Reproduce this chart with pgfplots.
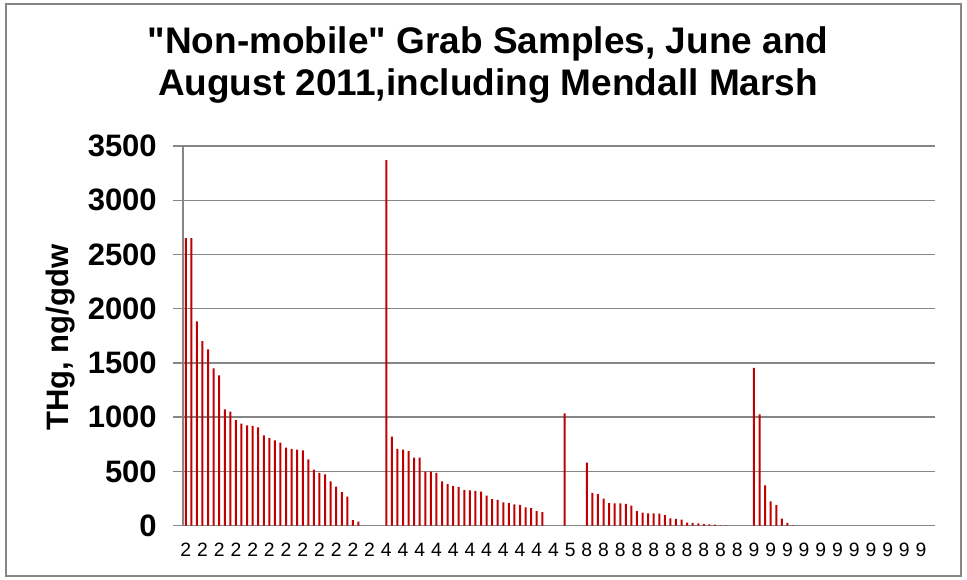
\documentclass[border=0pt]{standalone}
\usepackage{fontspec}
\setmainfont{Liberation Sans}
\newfontfamily\qfont[Ligatures=ResetAll]{Liberation Sans}
\usepackage{pgfplots}
\pgfplotsset{compat=1.18}
\definecolor{barred}{RGB}{192,0,0}
\definecolor{gridgray}{RGB}{134,134,134}
\begin{document}
\begin{tikzpicture}
\path[use as bounding box] (0,0) rectangle (725.25pt,435pt);
\draw[gridgray, line width=1.1pt] (4.5pt,3pt) rectangle (720.75pt,432pt);
\begin{axis}[
  at={(137.25pt,40.725pt)}, anchor=south west,
  scale only axis, width=564pt, height=284.775pt,
  xmin=0.5, xmax=135.5, ymin=0, ymax=3500,
  axis x line*=bottom, axis y line*=left,
  axis line style={-, gridgray, line width=1.1pt},
  ybar, bar width=1.5pt,
  ytick={0,500,...,3500},
  yticklabels={0,500,1000,1500,2000,2500,3000,3500},
  ymajorgrids, major grid style={gridgray, line width=1.1pt},
  tick align=outside, major tick length=7.5pt, minor tick length=3.75pt,
  ytick style={gridgray, line width=1.1pt},
  xtick={1,4,...,133},
  xticklabels={2,2,2,2,2,2,2,2,2,2,2,2,4,4,4,4,4,4,4,4,4,4,4,5,8,8,8,8,8,8,8,8,8,8,9,9,9,9,9,9,9,9,9,9,9},
  xtick style={draw=none},
  minor xtick={0.5,1.5,...,135.5},
  minor x tick style={gridgray, line width=0.9pt},
  yticklabel style={font=\fontsize{23.25}{28}\selectfont\bfseries, anchor=east, inner sep=0pt, xshift=-12pt},
  xticklabel style={font=\fontsize{14.5}{17}\selectfont, anchor=north, inner sep=0pt, yshift=-5.5pt},
  title={{\qfont\bfseries"}Non-mobile{\qfont\bfseries"} Grab Samples, June and\\August 2011,including Mendall Marsh},
  title style={at={(axis description cs:0.4056,1.0896)}, anchor=south, align=center, inner sep=0pt, font=\fontsize{27.75}{31.5}\selectfont\bfseries},
  ylabel={THg, ng/gdw},
  ylabel style={at={(axis description cs:-0.1431,0.495)}, anchor=south, inner sep=0pt, rotate=0, font=\fontsize{23.25}{28}\selectfont\bfseries},
]
\addplot[fill=barred, draw=none] coordinates {
(1,2650) (2,2650) (3,1884) (4,1702) (5,1626) (6,1450) (7,1386) (8,1073) (9,1051) (10,974)
(11,940) (12,925) (13,919) (14,907) (15,833) (16,808) (17,787) (18,765) (19,719) (20,707)
(21,701) (22,694) (23,612) (24,516) (25,486) (26,473) (27,409) (28,360) (29,310) (30,267)
(31,52) (32,37)
(37,3370) (38,820) (39,707) (40,701) (41,688) (42,627) (43,627) (44,498) (45,498) (46,486)
(47,409) (48,384) (49,366) (50,357) (51,329) (52,326) (53,320) (54,313) (55,277) (56,246)
(57,237) (58,215) (59,209) (60,197) (61,191) (62,169) (63,163) (64,135) (65,126)
(69,1036)
(73,582) (74,302) (75,292) (76,249) (77,209) (78,206) (79,206) (80,200) (81,185) (82,135)
(83,120) (84,114) (85,114) (86,111) (87,98) (88,68) (89,62) (90,55) (91,28) (92,25)
(93,22) (94,15) (95,12) (96,9) (97,4) (98,2)
(103,1455) (104,1025) (105,372) (106,225) (107,190) (108,65) (109,25) (110,3)
};
\end{axis}
\end{tikzpicture}
\end{document}
